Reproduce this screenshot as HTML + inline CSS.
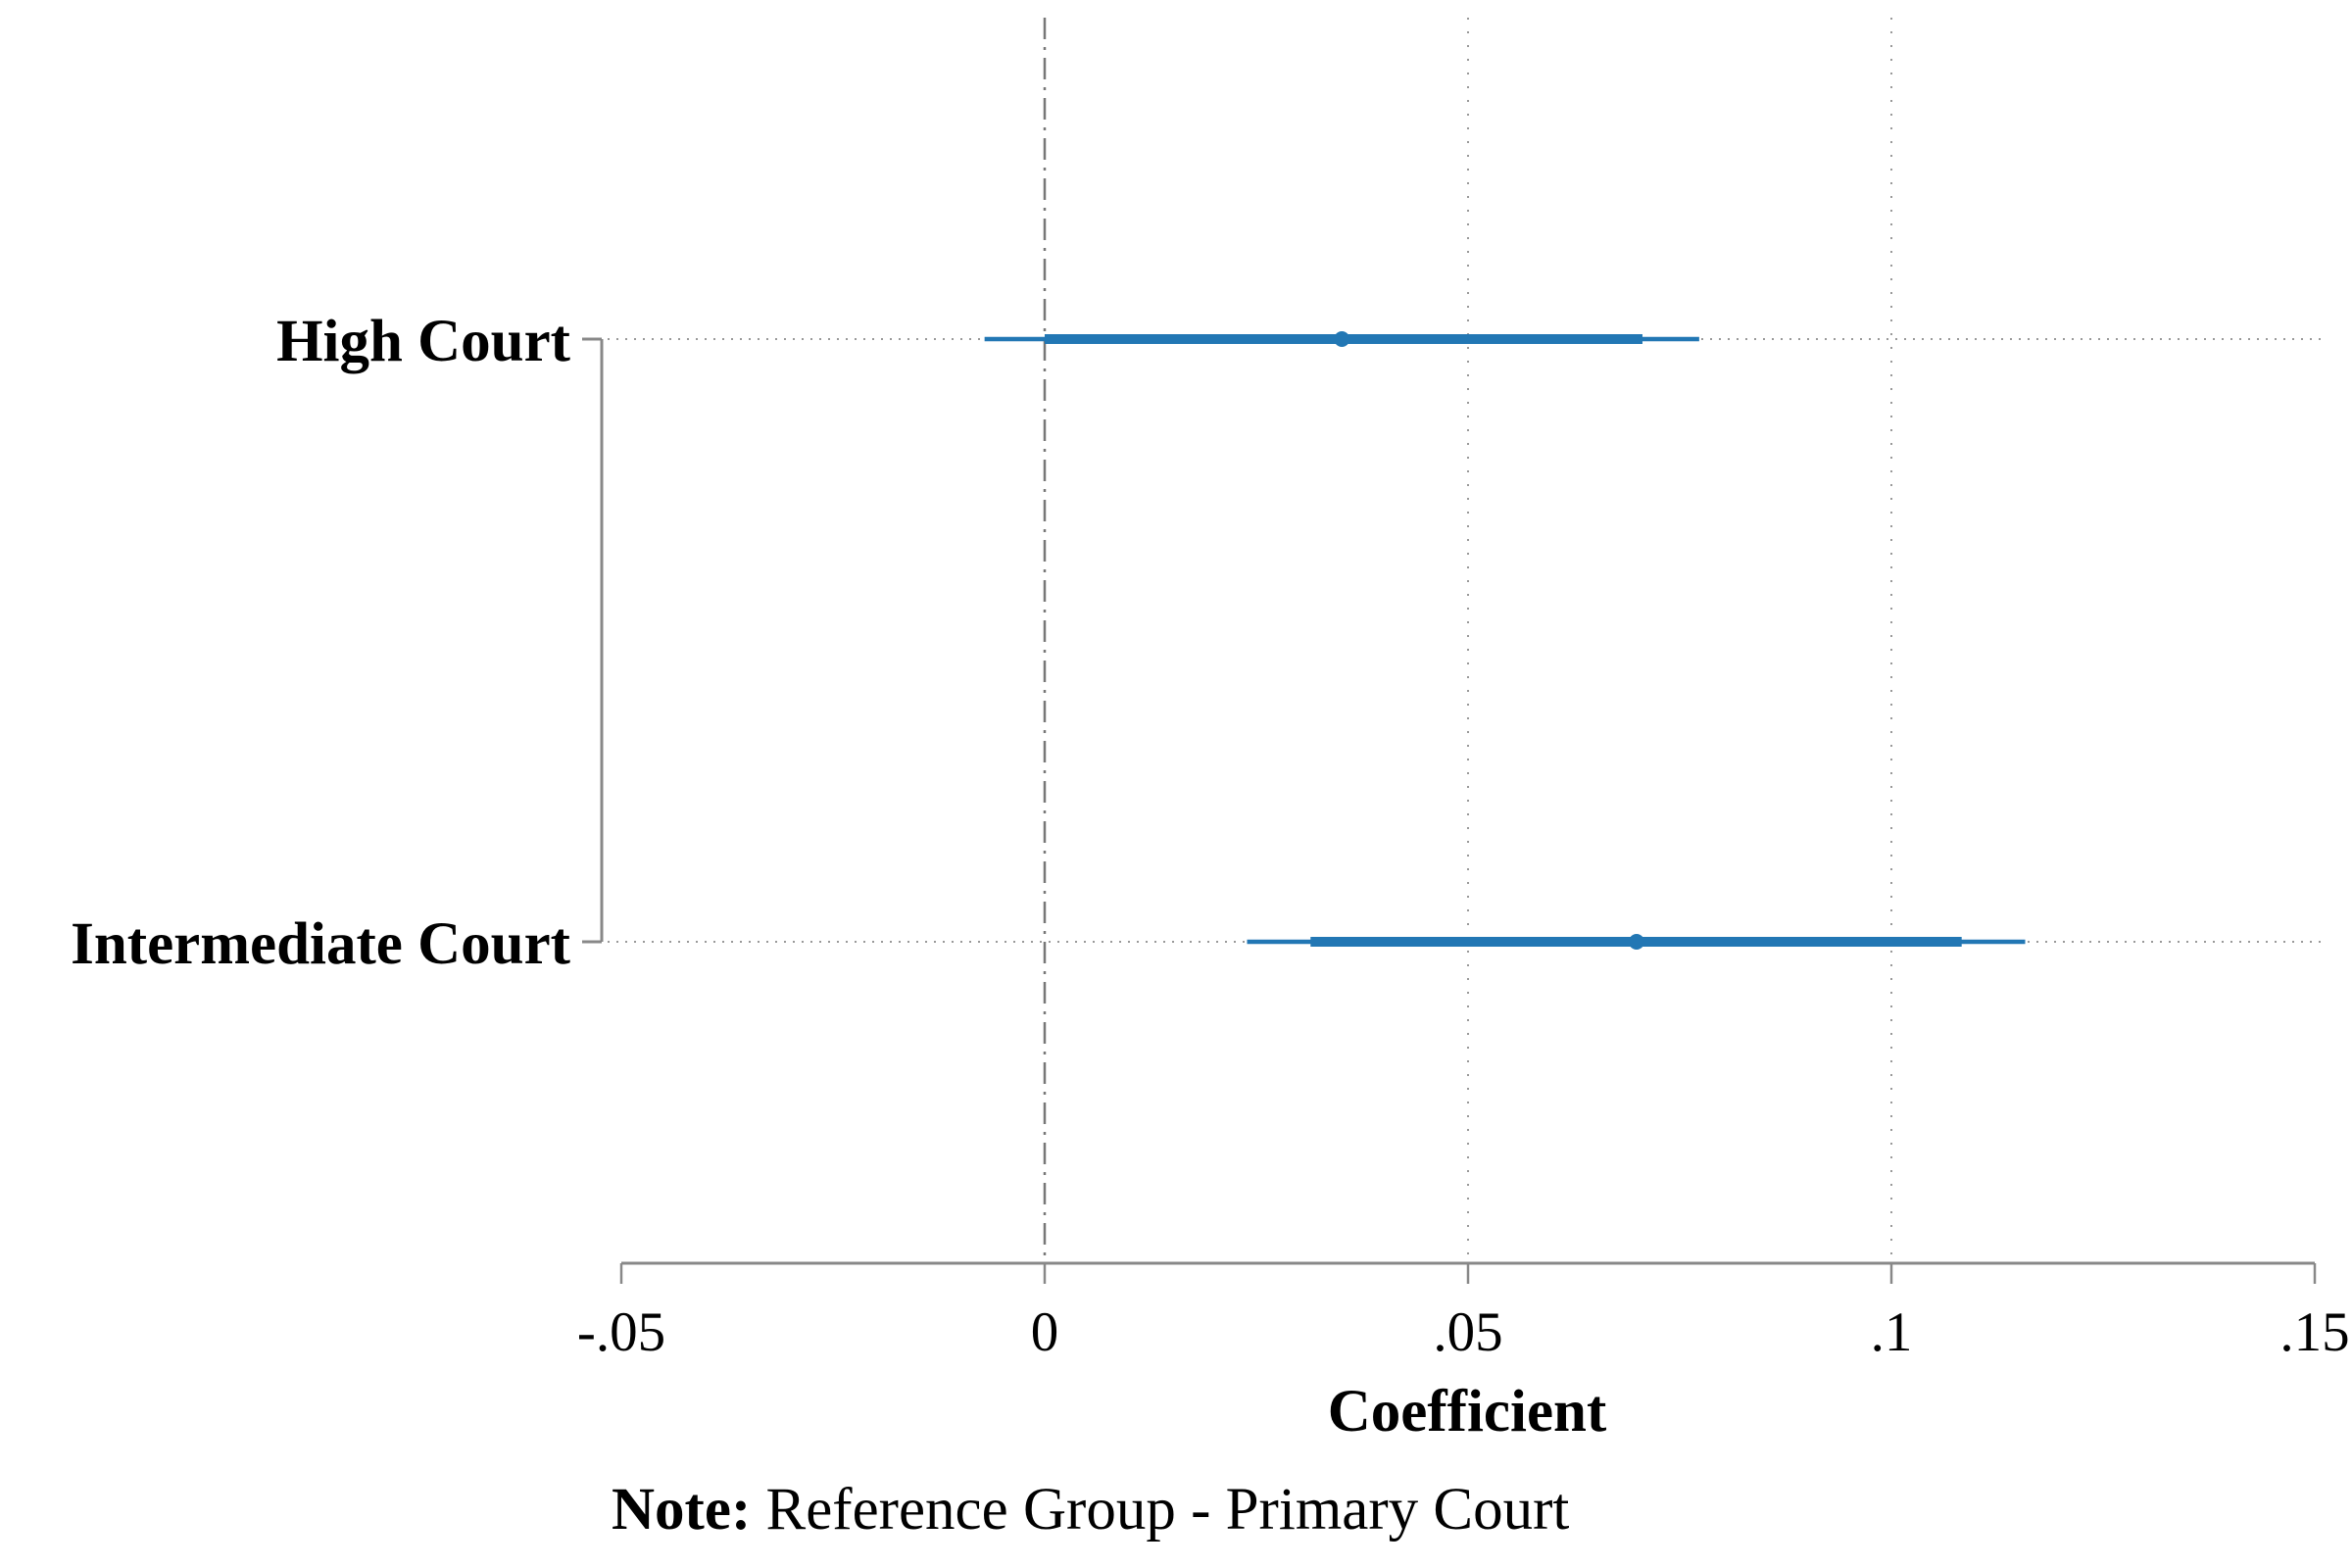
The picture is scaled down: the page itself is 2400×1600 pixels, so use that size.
<!DOCTYPE html>
<html><head><meta charset="utf-8"><style>
body{margin:0;background:#fff}
svg{display:block}
text{font-family:"Liberation Serif",serif;fill:#000}
</style></head><body>
<svg id="chart" width="2400" height="1600" viewBox="0 0 2400 1600" xmlns="http://www.w3.org/2000/svg">
<g id="grid"></g>
<g id="axes"></g>
<g id="marks"></g>
<text x="1497" y="1460" text-anchor="middle" font-size="61" font-weight="bold">Coefficient</text>
<text x="624" y="1560" font-size="61"><tspan font-weight="bold">Note:</tspan> Reference Group - Primary Court</text>
</svg>
<script>
const categories=["High Court","Intermediate Court"];
const coef=[0.0351,0.0699];
const ci95Low=[-0.0071,0.0239];
const ci95High=[0.0773,0.1158];
const ci90Low=[0.0,0.0314];
const ci90High=[0.0706,0.1083];
const xTicks=[-0.05,0,0.05,0.1,0.15];
const xTickLabels=["-.05","0",".05",".1",".15"];

const NS="http://www.w3.org/2000/svg";
const x=v=>634+(v+0.05)/0.2*(2362-634);
const y=i=>346+i*(961-346);
const axisY=1289, color="#2277b4";
function mk(tag,attrs,parent){const e=document.createElementNS(NS,tag);for(const k in attrs)e.setAttribute(k,attrs[k]);document.getElementById(parent).appendChild(e);return e;}

xTicks.forEach((t,i)=>{
  if(t===0){
    const l=mk('line',{x1:x(t),x2:x(t),y1:18,y2:axisY,stroke:'#777','stroke-width':2.5,'stroke-dasharray':'22 8 3 8'},'grid');
    
    
  } else if(t>0 && t<0.15){
    const l=mk('line',{x1:x(t),x2:x(t),y1:18,y2:axisY,stroke:'#999','stroke-width':2,'stroke-dasharray':'2 12'},'grid');
    
    
  }
});
categories.forEach((c,i)=>{
  const l=mk('line',{x1:620,x2:2372,y1:y(i),y2:y(i),stroke:'#999','stroke-width':2,'stroke-dasharray':'2 7'},'grid');
  
  
});
let ax=mk('line',{x1:x(-0.05),x2:x(0.15),y1:axisY,y2:axisY,stroke:'#888','stroke-width':3},'axes');


xTicks.forEach((t,i)=>{
  const tk=mk('line',{x1:x(t),x2:x(t),y1:axisY,y2:axisY+21,stroke:'#888','stroke-width':2.5},'axes');
  
  
  const tx=mk('text',{x:x(t),y:1378,'text-anchor':'middle','font-size':57},'axes');
  tx.textContent=xTickLabels[i];
  
  
});
let ay=mk('line',{x1:614,x2:614,y1:y(0),y2:y(categories.length-1),stroke:'#888','stroke-width':3},'axes');


categories.forEach((c,i)=>{
  const tk=mk('line',{x1:594,x2:614,y1:y(i),y2:y(i),stroke:'#888','stroke-width':3},'axes');
  
  
  const tx=mk('text',{x:582,y:y(i)+22,'text-anchor':'end','font-size':61,'font-weight':'bold'},'axes');
  tx.textContent=c;
  
  
});
categories.forEach((c,i)=>{
  const o=mk('line',{x1:x(ci95Low[i]),x2:x(ci95High[i]),y1:y(i),y2:y(i),stroke:color,'stroke-width':4.5},'marks');
  
  
  const n=mk('line',{x1:x(ci90Low[i]),x2:x(ci90High[i]),y1:y(i),y2:y(i),stroke:color,'stroke-width':10},'marks');
  
  
  const p=mk('circle',{cx:x(coef[i]),cy:y(i),r:8,fill:color},'marks');
  
  
});
</script>
</body></html>
